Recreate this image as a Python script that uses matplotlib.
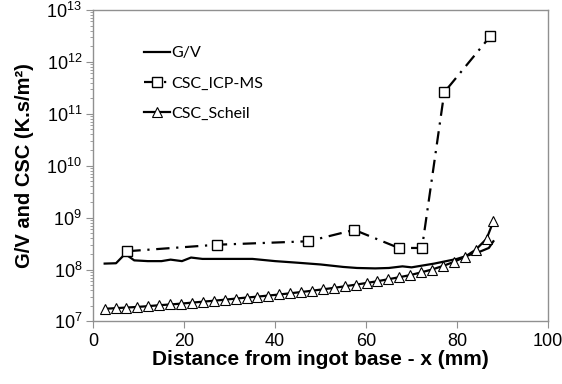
import numpy as np
import matplotlib
matplotlib.use("Agg")
import matplotlib.pyplot as plt
from matplotlib.ticker import LogLocator, NullFormatter, FixedLocator

plt.rcParams['font.family'] = ['Liberation Sans', 'DejaVu Sans']
plt.rcParams['mathtext.fontset'] = 'custom'
plt.rcParams['mathtext.rm'] = 'Liberation Sans'

# G/V curve
gv_x = [2.5, 5, 7, 9, 12, 15, 17, 19.5, 21.5, 24, 30, 35, 40, 45, 50, 55, 58,
        62, 65, 68, 70, 75, 80, 85, 87, 88]
gv_y = [1.3e8, 1.32e8, 2.0e8, 1.5e8, 1.45e8, 1.45e8, 1.55e8, 1.45e8, 1.7e8,
        1.6e8, 1.6e8, 1.6e8, 1.45e8, 1.35e8, 1.25e8, 1.12e8, 1.07e8, 1.05e8,
        1.07e8, 1.15e8, 1.1e8, 1.3e8, 1.6e8, 2.2e8, 2.6e8, 3.5e8]

# CSC from ICP-MS
icp_x = [7.5, 27.2, 47.3, 57.4, 67.2, 72.3, 77.2, 87.3]
icp_y = [2.25e8, 3.0e8, 3.5e8, 5.8e8, 2.6e8, 2.6e8, 2.6e11, 3.1e12]

# CSC from Scheil
sch_x = [2.5, 4.9, 7.3, 9.7, 12.1, 14.5, 16.9, 19.3, 21.7, 24.1, 26.5, 28.9,
         31.3, 33.7, 36.1, 38.5, 40.9, 43.3, 45.7, 48.1, 50.5, 52.9, 55.3,
         57.7, 60.1, 62.5, 64.9, 67.3, 69.7, 72.1, 74.5, 76.9, 79.3, 81.7,
         84.1, 86.5, 88.0]
sch_y = [1.75e7, 1.8e7, 1.85e7, 1.9e7, 1.97e7, 2.05e7, 2.12e7, 2.2e7, 2.3e7,
         2.4e7, 2.5e7, 2.62e7, 2.75e7, 2.88e7, 3.0e7, 3.15e7, 3.3e7, 3.48e7,
         3.68e7, 3.9e7, 4.15e7, 4.42e7, 4.75e7, 5.1e7, 5.5e7, 5.95e7, 6.5e7,
         7.1e7, 7.8e7, 8.8e7, 1.0e8, 1.17e8, 1.4e8, 1.75e8, 2.4e8, 3.9e8,
         8.5e8]

fig = plt.figure(figsize=(5.62, 3.84), dpi=100)
ax = fig.add_axes([0.166, 0.163, 0.809, 0.811])

ax.plot(gv_x, gv_y, '-', color='black', lw=1.6, label='G/V')
ax.plot(icp_x, icp_y, color='black', lw=1.6, ls=(0, (6, 3, 1, 3)),
        marker='s', ms=6.5, mfc='white', mec='black', mew=1.0,
        label='CSC_ICP-MS')
ax.plot(sch_x, sch_y, '-', color='black', lw=1.6,
        marker='^', ms=6.5, mfc='white', mec='black', mew=0.8,
        label='CSC_Scheil')

ax.set_yscale('log')
ax.set_xlim(0, 100)
ax.set_ylim(1e7, 1e13)
ax.xaxis.set_major_locator(FixedLocator([0, 20, 40, 60, 80, 100]))
ax.yaxis.set_major_locator(LogLocator(base=10, numticks=10))
ax.yaxis.set_minor_locator(LogLocator(base=10, subs=np.arange(2, 10), numticks=20))
ax.yaxis.set_minor_formatter(NullFormatter())

for s in ax.spines.values():
    s.set_color('#909090')
    s.set_linewidth(1.0)

ax.tick_params(axis='both', which='major', color='#909090',
               length=5, direction='out')
ax.tick_params(axis='x', labelsize=13, pad=3)
ax.tick_params(axis='y', labelsize=13, pad=3)
ax.tick_params(axis='y', which='minor', color='#909090', length=2.5)

ax.set_xlabel('Distance from ingot base - x (mm)', fontsize=15,
              fontweight='bold', labelpad=0)
ax.set_ylabel('G/V and CSC (K.s/m²)', fontsize=14.5, fontweight='bold',
              labelpad=9)

leg = ax.legend(loc='upper left', bbox_to_anchor=(0.08, 0.93), frameon=False,
                handlelength=1.6, handletextpad=0.1, labelspacing=1.0,
                prop={'family': 'Lato', 'size': 11.5})

plt.savefig('out.png', dpi=100)
